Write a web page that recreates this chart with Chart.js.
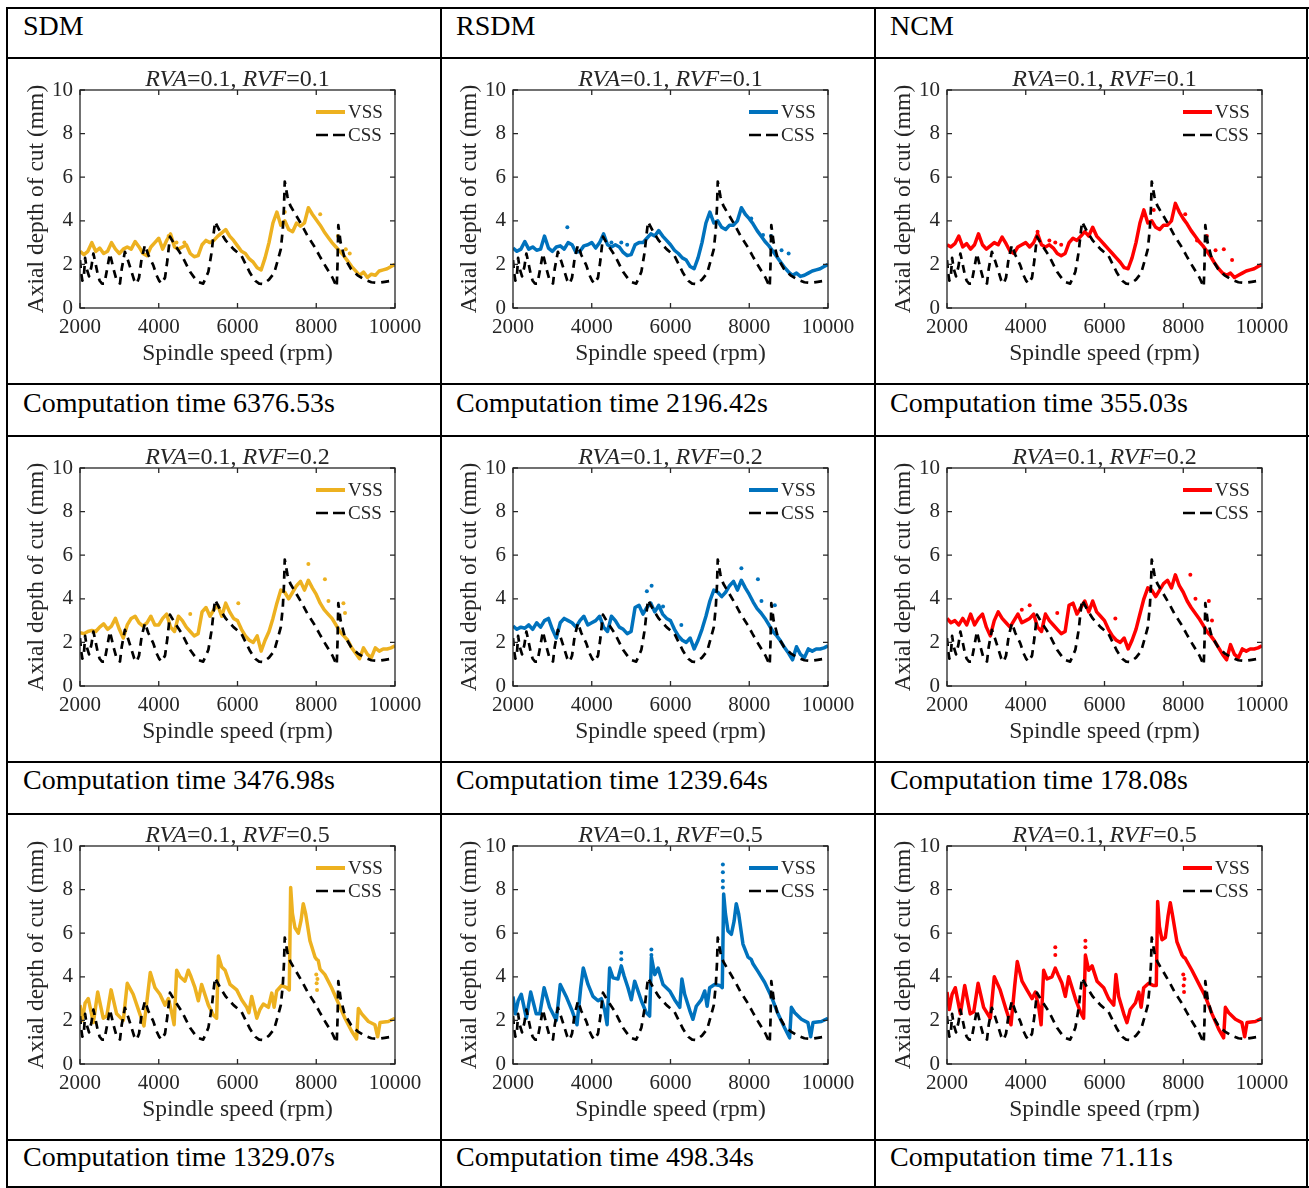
<!DOCTYPE html>
<html>
<head>
<meta charset="utf-8">
<script src="https://cdn.jsdelivr.net/npm/chart.js@4.4.1/dist/chart.umd.min.js"></script>
<style>
html, body { margin: 0; padding: 0; background: #fff; }
#page { position: relative; width: 1309px; height: 1188px; overflow: hidden; font-family: 'Liberation Serif', 'Times New Roman', serif; }
.hl { position: absolute; height: 2px; background: #000; z-index: 2; }
.vl { position: absolute; width: 2px; background: #000; z-index: 2; }
.txt { position: absolute; font-size: 28px; line-height: 30px; height: 30px; white-space: nowrap; color: #000; }
canvas { position: absolute; z-index: 1; }
</style>
</head>
<body>
<div id="page"></div>
<script>
// ---- data ----
const methods = ['SDM', 'RSDM', 'NCM'];
const rvfValues = ['0.1', '0.2', '0.5'];
const compTimes = [
  ['6376.53s', '2196.42s', '355.03s'],
  ['3476.98s', '1239.64s', '178.08s'],
  ['1329.07s', '498.34s', '71.11s']
];
const xTickValues = [2000, 4000, 6000, 8000, 10000];
const yTickValues = [0, 2, 4, 6, 8, 10];

// constant spindle speed (same in every panel)
const cssLobes = [
  [2000,2.2],[2030,1.6],[2060,1.25],[2100,1.5],[2130,2.3],[2170,1.8],[2230,1.45],[2290,1.9],[2340,2.5],[2400,2.0],
  [2450,1.55],[2500,1.25],[2560,1.12],[2620,1.12],[2680,1.7],[2760,2.5],[2850,1.8],[2930,1.27],[3015,1.12],[3060,1.8],
  [3140,2.58],[3230,2.12],[3310,1.66],[3380,1.25],[3440,1.12],[3500,1.4],[3565,2.27],[3650,2.89],[3735,2.43],[3860,1.97],
  [3945,1.5],[4010,1.25],[4075,1.12],[4160,1.4],[4220,2.2],[4285,3.27],[4410,2.89],[4580,2.43],[4795,1.66],[4920,1.35],
  [5020,1.18],[5130,1.12],[5260,1.66],[5345,2.58],[5390,3.35],[5430,3.96],[5560,3.5],[5700,3.1],[5900,2.7],[6100,2.4],
  [6320,1.6],[6450,1.25],[6550,1.12],[6650,1.1],[6800,1.3],[6930,1.6],[7010,2.1],[7100,2.7],[7150,3.6],[7180,4.6],
  [7200,5.8],[7270,5.1],[7340,4.7],[7520,4.15],[7650,3.75],[7780,3.3],[7960,2.8],[8080,2.4],[8240,1.9],[8410,1.4],
  [8520,0.97],[8540,2.0],[8560,3.8],[8620,3.0],[8720,2.3],[8880,1.8],[9050,1.5],[9230,1.3],[9400,1.18],[9560,1.15],
  [9740,1.2],[10000,1.27]
];

// spindle speed grid for RVF = 0.1 and 0.2
const rpmGrid = [
  2000,2100,2200,2300,2400,2500,2600,2700,2800,2900,
  3000,3100,3200,3300,3400,3500,3600,3700,3800,3900,
  4000,4100,4200,4300,4400,4500,4600,4700,4800,4900,
  5000,5100,5200,5300,5400,5500,5600,5700,5800,5900,
  6000,6100,6200,6300,6400,6500,6600,6700,6800,6900,
  7000,7100,7200,7300,7400,7500,7600,7700,7800,7900,
  8000,8100,8200,8300,8400,8500,8600,8700,8800,8900,
  9000,9100,9200,9300,9400,9500,9600,9700,9800,9900,
  10000
];

const sdmRvf01 = [
  2.6,2.45,2.6,3.0,2.6,2.75,2.5,2.6,3.0,2.7,
  2.5,2.7,2.8,2.7,3.05,2.8,2.5,2.4,2.8,3.0,
  3.2,2.7,3.1,3.4,2.8,2.7,2.8,2.9,2.5,2.35,
  2.4,2.9,3.1,3.0,3.1,3.3,3.45,3.6,3.3,3.1,
  2.85,2.6,2.5,2.25,2.1,1.85,1.75,2.3,3.0,3.9,
  4.4,3.8,4.0,3.6,3.5,3.9,3.75,3.9,4.6,4.3,
  4.05,3.8,3.5,3.25,3.0,2.8,2.6,2.4,2.15,1.9,
  1.7,1.5,1.65,1.4,1.55,1.5,1.7,1.75,1.8,1.9,
  2.0
];
const rsdmRvf01 = [
  2.75,2.6,2.7,3.05,2.7,2.8,2.65,2.7,3.3,2.75,
  2.6,2.8,2.85,2.7,3.0,2.9,2.55,2.6,2.85,2.9,
  3.0,2.75,3.0,3.4,2.9,2.8,2.9,2.8,2.55,2.4,
  2.45,2.9,3.0,3.0,3.2,3.4,3.3,3.55,3.3,3.1,
  2.9,2.65,2.5,2.3,2.2,1.9,1.8,2.3,3.0,3.9,
  4.4,3.9,4.0,3.7,3.6,3.8,3.8,4.0,4.6,4.3,
  4.1,3.85,3.55,3.3,3.05,2.85,2.6,2.35,2.1,1.85,
  1.65,1.5,1.6,1.45,1.5,1.6,1.7,1.75,1.8,1.9,
  2.0
];
const ncmRvf01 = [
  2.9,2.8,2.95,3.3,2.8,2.95,2.7,2.9,3.4,2.9,
  2.7,2.85,3.0,2.9,3.25,2.95,2.6,2.5,2.8,2.9,
  3.0,2.8,3.0,3.4,2.9,2.8,2.9,2.75,2.5,2.4,
  2.5,3.0,3.2,3.1,3.3,3.5,3.3,3.7,3.3,3.1,
  2.9,2.7,2.5,2.3,2.1,1.85,1.8,2.3,3.0,3.9,
  4.5,3.9,4.0,3.7,3.6,3.8,3.8,4.0,4.8,4.4,
  4.1,3.85,3.55,3.3,3.05,2.85,2.6,2.35,2.05,1.8,
  1.6,1.5,1.6,1.4,1.5,1.6,1.7,1.75,1.8,1.9,
  2.0
];
const sdmRvf02 = [
  2.45,2.4,2.5,2.55,2.5,2.7,2.85,2.6,2.75,3.1,
  2.6,2.2,2.8,3.1,3.2,2.9,2.75,2.9,3.2,2.8,
  2.8,3.1,3.3,2.7,2.5,3.2,3.0,2.7,2.5,2.3,
  2.4,3.4,3.6,3.2,3.5,3.7,3.2,3.8,3.4,3.1,
  3.0,2.6,2.3,2.1,2.0,2.3,1.6,2.1,2.5,3.1,
  3.8,4.4,4.3,4.0,4.3,4.6,4.8,4.4,4.85,4.5,
  4.2,3.8,3.5,3.3,3.1,2.8,2.5,2.3,2.1,1.75,
  1.5,1.25,1.75,1.45,1.3,1.75,1.6,1.7,1.7,1.75,
  1.85
];
const rsdmRvf02 = [
  2.75,2.6,2.7,2.65,2.8,2.6,2.9,2.7,3.0,3.1,
  2.6,2.2,2.9,3.1,3.0,2.9,2.7,3.0,3.2,2.8,
  2.9,3.0,3.2,2.7,2.5,3.2,3.0,2.7,2.6,2.4,
  2.5,3.6,3.7,3.3,3.6,3.8,3.4,3.7,3.3,3.1,
  3.0,2.6,2.3,2.1,2.0,2.2,1.7,2.1,2.6,3.2,
  3.9,4.4,4.3,4.1,4.3,4.6,4.8,4.4,4.85,4.5,
  4.2,3.85,3.55,3.35,3.1,2.8,2.5,2.3,2.05,1.75,
  1.5,1.2,1.8,1.45,1.3,1.7,1.6,1.7,1.7,1.75,
  1.85
];
const ncmRvf02 = [
  3.1,2.9,3.0,2.8,3.1,2.8,3.3,2.8,3.1,3.3,
  2.7,2.3,3.0,3.4,3.1,2.9,2.7,3.0,3.3,2.9,
  3.0,3.1,3.3,2.7,2.5,3.3,3.0,2.8,2.6,2.4,
  2.5,3.7,3.8,3.3,3.6,3.9,3.4,3.9,3.4,3.2,
  3.0,2.6,2.3,2.1,2.0,2.2,1.7,2.1,2.6,3.3,
  4.0,4.5,4.4,4.1,4.4,4.7,4.85,4.5,5.1,4.6,
  4.3,3.9,3.6,3.35,3.1,2.8,2.5,2.3,2.05,1.75,
  1.45,1.2,1.9,1.45,1.3,1.7,1.6,1.7,1.7,1.75,
  1.85
];

// spindle speed points for RVF = 0.5 (saw-tooth curves)
const rpmSaw = [
  2000,2060,2130,2210,2340,2450,2590,2680,2790,2930,
  3100,3200,3350,3500,3625,3720,3785,3905,4030,4160,
  4245,4330,4390,4455,4540,4665,4750,4820,4920,5005,
  5090,5260,5385,5470,5515,5600,5685,5810,5980,6105,
  6235,6290,6360,6490,6570,6655,6785,6870,6930,6995,
  7120,7250,7315,7350,7395,7460,7545,7615,7670,7730,
  7840,7970,8010,8050,8095,8220,8390,8560,8730,8900,
  9025,9070,9155,9325,9490,9560,9620,9830,10000
];
const sdmRvf05 = [
  2.7,2.0,2.8,3.0,1.9,3.3,2.1,2.2,3.4,2.3,
  2.0,3.7,3.2,2.4,1.75,3.2,4.2,3.5,3.2,2.7,
  3.0,2.35,1.8,4.3,4.0,3.8,4.3,4.0,3.5,2.9,
  3.65,2.7,2.25,2.1,4.95,4.45,4.3,3.65,3.4,2.95,
  2.6,2.35,3.1,2.1,2.5,2.75,2.6,3.25,2.6,3.35,
  3.6,3.5,3.4,8.1,6.9,6.25,6.0,6.6,7.35,6.9,
  5.65,4.9,4.8,4.75,4.35,4.1,3.5,2.8,2.1,1.5,
  1.15,2.55,2.3,1.95,1.8,1.25,1.9,1.95,2.1
];
const rsdmRvf05 = [
  3.1,2.3,2.9,3.2,2.1,3.3,2.3,2.3,3.5,2.6,
  2.0,3.65,3.1,2.45,1.8,3.5,4.4,3.65,3.1,2.9,
  3.0,2.45,1.8,4.4,3.95,3.9,4.5,4.05,3.5,2.95,
  3.8,2.9,2.35,2.2,4.9,4.1,4.4,3.65,3.35,2.95,
  2.6,3.9,3.2,2.45,2.05,2.65,2.95,3.35,2.65,3.5,
  3.65,3.6,3.5,7.8,6.9,6.1,5.95,6.55,7.35,6.9,
  5.5,4.9,4.85,4.8,4.6,4.25,3.75,3.1,2.3,1.65,
  1.2,2.6,2.35,2.05,1.9,1.25,1.9,1.95,2.1
];
const ncmRvf05 = [
  3.3,2.5,3.2,3.5,2.3,3.6,2.3,2.4,3.7,2.6,
  2.1,4.0,3.4,2.5,1.8,3.6,4.7,3.8,3.4,3.0,
  3.3,2.6,1.8,4.3,3.9,4.0,4.4,4.1,3.7,3.1,
  4.0,3.0,2.4,2.1,5.0,4.3,4.5,3.8,3.5,3.0,
  2.7,4.1,3.1,2.3,1.9,2.5,2.8,3.3,2.6,3.5,
  3.7,3.6,3.6,7.45,6.3,5.7,5.8,6.8,7.4,6.8,
  5.6,5.0,4.9,4.85,4.7,4.3,3.7,3.1,2.3,1.6,
  1.2,2.6,2.35,2.05,1.9,1.25,1.9,1.95,2.1
];

// scattered VSS points off the main curve
const sdmRvf01Dots = [[4250,3.3],[4450,3.0],[4650,3.0],[7200,4.4],[8100,4.3],[8550,3.3],[8750,2.7],[8850,2.5]];
const rsdmRvf01Dots = [[3380,3.7],[4500,3.0],[4750,3.0],[4900,2.9],[8050,4.1],[8350,3.35],[8550,3.3],[8820,2.65],[9000,2.5]];
const ncmRvf01Dots = [[4300,3.5],[4600,3.1],[4750,3.0],[4900,2.9],[7250,4.5],[8050,4.3],[8350,3.1],[8600,3.3],[8820,2.65],[9030,2.7],[9240,2.2]];
const sdmRvf02Dots = [[4800,3.3],[5600,3.3],[6020,3.8],[7800,5.6],[8220,4.9],[8310,3.9],[8690,3.8],[8730,3.35]];
const rsdmRvf02Dots = [[5400,4.35],[5520,4.6],[5810,3.65],[6275,2.8],[7800,5.4],[8220,4.9],[8310,3.9],[8650,3.7]];
const ncmRvf02Dots = [[3900,3.5],[4100,3.7],[4800,3.35],[6275,3.1],[8180,5.1],[8310,4.0],[8650,3.9],[8730,3.0]];
const sdmRvf05Dots = [[8000,4.1],[8010,3.7],[8020,3.4],[8030,3.9]];
const rsdmRvf05Dots = [[4750,5.1],[4750,4.8],[5515,5.25],[5515,5.0],[7330,9.15],[7330,8.8],[7330,8.4],[7330,8.1]];
const ncmRvf05Dots = [[4750,5.35],[4750,5.0],[5515,5.65],[5515,5.35],[8000,4.1],[8010,3.6],[8020,3.3],[8030,3.9]];

const methodColors = ['#EDB120', '#0072BD', '#FF0000'];

const panels = [
  [[rpmGrid, sdmRvf01, sdmRvf01Dots], [rpmGrid, rsdmRvf01, rsdmRvf01Dots], [rpmGrid, ncmRvf01, ncmRvf01Dots]],
  [[rpmGrid, sdmRvf02, sdmRvf02Dots], [rpmGrid, rsdmRvf02, rsdmRvf02Dots], [rpmGrid, ncmRvf02, ncmRvf02Dots]],
  [[rpmSaw, sdmRvf05, sdmRvf05Dots], [rpmSaw, rsdmRvf05, rsdmRvf05Dots], [rpmSaw, ncmRvf05, ncmRvf05Dots]]
];

// ---- layout ----
const FONT = "'Liberation Serif', 'Times New Roman', serif";
const colX = [8, 441, 875];
const chartRowY = [58, 436, 814];
const timeRowMid = [404, 781, 1158];
const page = document.getElementById('page');

[8, 58, 384, 436, 762, 814, 1140, 1187].forEach(y => {
  const d = document.createElement('div');
  d.className = 'hl';
  d.style.left = '6px'; d.style.top = (y - 1) + 'px'; d.style.width = '1303px';
  page.appendChild(d);
});
[7, 441, 875, 1307].forEach(x => {
  const d = document.createElement('div');
  d.className = 'vl';
  d.style.left = (x - 1) + 'px'; d.style.top = '7px'; d.style.height = '1182px';
  page.appendChild(d);
});

function addText(str, x, midY) {
  const d = document.createElement('div');
  d.className = 'txt';
  d.textContent = str;
  d.style.left = x + 'px';
  d.style.top = (midY - 16) + 'px';
  page.appendChild(d);
}
methods.forEach((m, c) => addText(m, colX[c] + 15, 27));
compTimes.forEach((row, r) => row.forEach((t, c) => addText('Computation time ' + t, colX[c] + 15, timeRowMid[r])));

Chart.defaults.font.family = FONT;
Chart.defaults.color = '#262626';

// MATLAB-like box, inward ticks, legend and mixed-style title
const matlabFrame = {
  id: 'matlabFrame',
  afterDatasetsDraw(chart, args, opts) {
    const { ctx, chartArea: a, scales } = chart;
    ctx.save();
    ctx.strokeStyle = '#262626';
    ctx.lineWidth = 1.3;
    ctx.setLineDash([]);
    ctx.strokeRect(a.left, a.top, a.right - a.left, a.bottom - a.top);
    ctx.beginPath();
    xTickValues.forEach(v => {
      const px = scales.x.getPixelForValue(v);
      ctx.moveTo(px, a.bottom); ctx.lineTo(px, a.bottom - 5);
      ctx.moveTo(px, a.top); ctx.lineTo(px, a.top + 5);
    });
    yTickValues.forEach(v => {
      const py = scales.y.getPixelForValue(v);
      ctx.moveTo(a.left, py); ctx.lineTo(a.left + 5, py);
      ctx.moveTo(a.right, py); ctx.lineTo(a.right - 5, py);
    });
    ctx.stroke();

    // legend
    ctx.font = '19px ' + FONT;
    ctx.textBaseline = 'middle';
    ctx.textAlign = 'left';
    opts.items.forEach((it, i) => {
      const y = a.top + 22 + i * 23;
      ctx.beginPath();
      ctx.strokeStyle = it.color;
      ctx.lineWidth = it.width;
      ctx.setLineDash(it.dash);
      ctx.moveTo(a.right - 79, y);
      ctx.lineTo(a.right - 50, y);
      ctx.stroke();
      ctx.setLineDash([]);
      ctx.fillStyle = '#262626';
      ctx.fillText(it.label, a.right - 47, y + 1);
    });

    // title: RVA=0.1, RVF=x
    const parts = [['RVA', true], ['=0.1, ', false], ['RVF', true], ['=' + opts.rvf, false]];
    const fontOf = it => (it ? 'italic ' : '') + '24px ' + FONT;
    let total = 0;
    parts.forEach(p => { ctx.font = fontOf(p[1]); total += ctx.measureText(p[0]).width; });
    let x = (a.left + a.right) / 2 - total / 2;
    const ty = a.top - 10;
    ctx.fillStyle = '#262626';
    parts.forEach(p => {
      ctx.font = fontOf(p[1]);
      ctx.fillText(p[0], x, ty);
      x += ctx.measureText(p[0]).width;
    });
    ctx.restore();
  }
};

function makeChart(r, c) {
  const [xs, ys, dots] = panels[r][c];
  const color = methodColors[c];
  const cv = document.createElement('canvas');
  cv.width = 433; cv.height = 326;
  cv.style.left = colX[c] + 'px';
  cv.style.top = chartRowY[r] + 'px';
  page.appendChild(cv);

  new Chart(cv.getContext('2d'), {
    type: 'line',
    data: {
      datasets: [
        {
          label: 'CSS',
          data: cssLobes.map(p => ({ x: p[0], y: p[1] })),
          borderColor: '#000',
          borderWidth: 2.7,
          borderDash: [8, 6],
          borderJoinStyle: 'round',
          pointRadius: 0,
          tension: 0
        },
        {
          label: 'dots',
          data: dots.map(p => ({ x: p[0], y: p[1] })),
          showLine: false,
          pointRadius: 2,
          pointBorderWidth: 0,
          pointBackgroundColor: color
        },
        {
          label: 'VSS',
          data: xs.map((x, i) => ({ x: x, y: ys[i] })),
          borderColor: color,
          borderWidth: 3.5,
          borderJoinStyle: 'round',
          pointRadius: 0,
          tension: 0
        }
      ]
    },
    options: {
      responsive: false,
      animation: false,
      events: [],
      layout: { padding: { top: 32, right: 46, left: 0, bottom: 0 } },
      plugins: {
        legend: { display: false },
        tooltip: { enabled: false },
        matlabFrame: {
          rvf: rvfValues[r],
          items: [
            { label: 'VSS', color: color, width: 4, dash: [] },
            { label: 'CSS', color: '#000', width: 2.5, dash: [12, 5] }
          ]
        }
      },
      scales: {
        x: {
          type: 'linear',
          min: 2000, max: 10000,
          grid: { display: false, drawTicks: false },
          border: { display: false },
          ticks: { stepSize: 2000, padding: 7, maxRotation: 0, autoSkip: false,
                   font: { size: 21 }, color: '#262626', callback: v => String(v) },
          title: { display: true, text: 'Spindle speed (rpm)', font: { size: 23.5 },
                   color: '#262626', padding: { top: 0, bottom: 16 } },
          afterFit: s => { s.height = 76; }
        },
        y: {
          min: 0, max: 10,
          grid: { display: false, drawTicks: false },
          border: { display: false },
          ticks: { stepSize: 2, padding: 7, font: { size: 21 }, color: '#262626',
                   callback: v => String(v) },
          title: { display: true, text: 'Axial depth of cut (mm)', font: { size: 23.5 },
                   color: '#262626', padding: { top: 15, bottom: 0 } },
          afterFit: s => { s.width = 72; }
        }
      }
    },
    plugins: [matlabFrame]
  });
}

for (let r = 0; r < 3; r++) {
  for (let c = 0; c < 3; c++) makeChart(r, c);
}
</script>
</body>
</html>
